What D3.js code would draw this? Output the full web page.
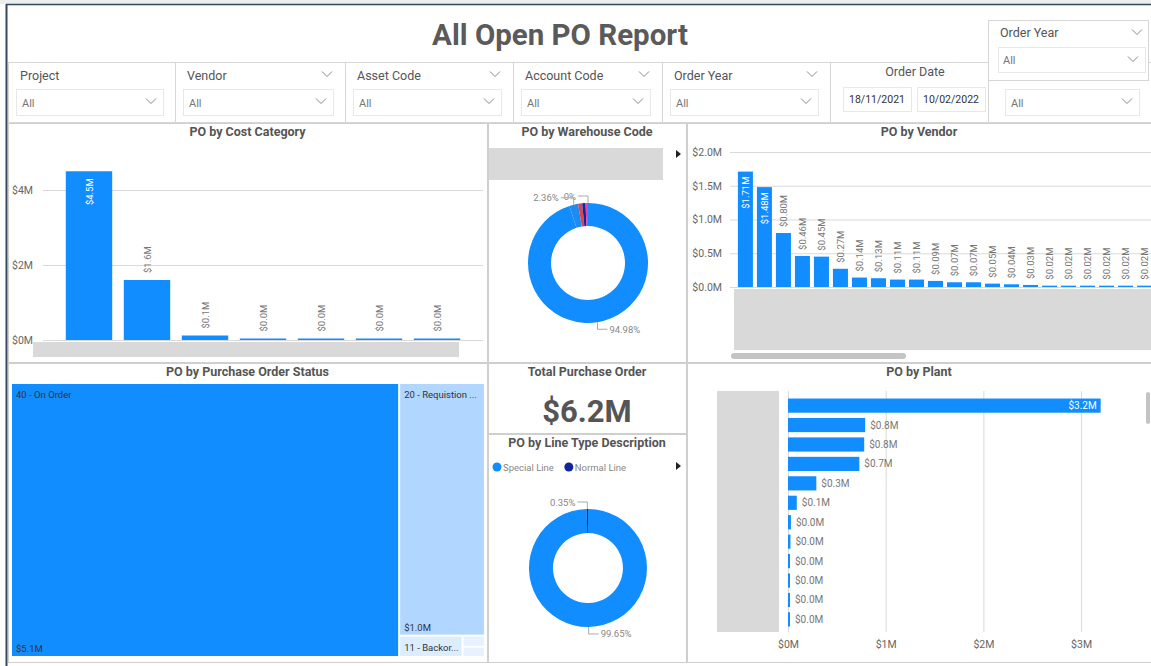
<!DOCTYPE html>
<html>
<head>
<meta charset="utf-8">
<script src="https://cdn.jsdelivr.net/npm/d3@7"></script>
<style>
body { margin: 0; background: #fff; }
svg { display: block; font-family: Roboto, "Noto Sans", sans-serif; }
</style>
</head>
<body>
<script>
"use strict";
// values
const costCategories = ["Category A", "Category B", "Category C", "Category D", "Category E", "Category F", "Category G"];
const costValues = [4.5, 1.6, 0.12, 0.03, 0.03, 0.03, 0.03];
const costTicks = [0, 2, 4];

const vendorNames = ["V01", "V02", "V03", "V04", "V05", "V06", "V07", "V08", "V09", "V10", "V11", "V12", "V13", "V14", "V15", "V16", "V17", "V18", "V19", "V20", "V21", "V22"];
const vendorValues = [1.71, 1.48, 0.80, 0.46, 0.45, 0.27, 0.14, 0.13, 0.11, 0.11, 0.09, 0.07, 0.07, 0.05, 0.04, 0.03, 0.02, 0.02, 0.02, 0.02, 0.02, 0.02];
const vendorTicks = [0, 0.5, 1, 1.5, 2];

const warehouseCodes = ["WH-1", "WH-2", "WH-3", "WH-4", "WH-5", "WH-6"];
const warehouseShares = [94.98, 2.36, 1.1, 0.9, 0.66, 0];
const warehouseShown = [true, true, false, false, false, true];
const warehouseColors = ["#118DFF", "#1E8BEF", "#D64550", "#12239E", "#E044A7", "#6B007B"];

const lineTypes = ["Special Line", "Normal Line"];
const lineShares = [99.65, 0.35];
const lineColors = ["#118DFF", "#12239E"];

const statusNames = ["40 - On Order", "20 - Requistion Approved", "11 - Backorder", "10 - Entered", "30 - Released"];
const statusValues = [5.1, 1.04, 0.065, 0.012, 0.011];
const statusColors = ["#118DFF", "#B1D6FF", "#DCEDFF", "#E6F2FF", "#E6F2FF"];

const plantNames = ["P01", "P02", "P03", "P04", "P05", "P06", "P07", "P08", "P09", "P10", "P11", "P12"];
const plantValues = [3.2, 0.79, 0.78, 0.73, 0.29, 0.09, 0.03, 0.025, 0.02, 0.02, 0.02, 0.015];
const plantTicks = [0, 1, 2, 3];

const totalPO = 6.2;
const slicerTitles = ["Project", "Vendor", "Asset Code", "Account Code", "Order Year"];
const dateRange = ["18/11/2021", "10/02/2022"];

const blue = "#118DFF";
const grey = "#666";
const W = 1151, H = 666;

const svg = d3.select("body").append("svg").attr("width", W).attr("height", H);

function chevron(g, x, y) {
	g.append("path")
	.attr("d", `M${x - 5},${y - 2.5}L${x},${y + 2.5}L${x + 5},${y - 2.5}`)
	.attr("fill", "none").attr("stroke", "#888").attr("stroke-width", 1);
}
function arrow(x, y) {
	svg.append("path").attr("d", `M${x},${y - 4}L${x + 5},${y}L${x},${y + 4}Z`).attr("fill", "#222");
}
function panel(x, y, w, h, title) {
	svg.append("rect").attr("x", x + 0.5).attr("y", y + 0.5).attr("width", w).attr("height", h)
	.attr("fill", "#fff").attr("stroke", "#cfcfcf");
	svg.append("text").attr("x", x + w / 2).attr("y", y + 13).attr("text-anchor", "middle")
	.attr("font-size", 12.5).attr("font-weight", 700).attr("fill", "#555").text(title);
}
function styleAxis(g) {
	g.select(".domain").remove();
	g.selectAll(".tick line").attr("stroke", "#d9d9d9");
	g.selectAll(".tick text").attr("fill", grey).attr("font-size", 10.5).attr("font-family", "Roboto, sans-serif");
}

// frame
svg.append("rect").attr("x", 0).attr("y", 0).attr("width", W).attr("height", 4).attr("fill", "#eceef0");
svg.append("line").attr("x1", 6).attr("x2", W).attr("y1", 4.5).attr("y2", 4.5).attr("stroke", "#34495e").attr("stroke-width", 1.5);
svg.append("line").attr("x1", 6.5).attr("x2", 6.5).attr("y1", 4).attr("y2", H).attr("stroke", "#34495e").attr("stroke-width", 2);

svg.append("text").attr("x", 560).attr("y", 45).attr("text-anchor", "middle")
.attr("font-size", 29.5).attr("font-weight", 700).attr("fill", "#5a5a5a").text("All Open PO Report");

// slicers
const slicerEdges = [8, 175, 345, 513, 662, 830, 988, 1151];
const slicers = svg.append("g");
slicerEdges.slice(0, -1).forEach((x0, i) => {
	const x1 = slicerEdges[i + 1];
	slicers.append("rect").attr("x", x0 + 0.5).attr("y", 62.5).attr("width", x1 - x0).attr("height", 60)
	.attr("fill", "#fff").attr("stroke", "#d6d6d6");
	if (i < slicerTitles.length || i === 6) {
		const dx = i === 6 ? 17 : 8;
		if (i < slicerTitles.length) {
			slicers.append("text").attr("x", x0 + 12).attr("y", 80).attr("font-size", 12.5).attr("fill", "#555").text(slicerTitles[i]);
			if (i > 0) chevron(slicers, x1 - 18, 74);
		}
		slicers.append("rect").attr("x", x0 + dx + 0.5).attr("y", 89.5).attr("width", x1 - x0 - dx - 12).attr("height", 26)
		.attr("fill", "#fff").attr("stroke", "#e8e8e8");
		slicers.append("text").attr("x", x0 + dx + 6).attr("y", 107).attr("font-size", 11).attr("fill", "#777").text("All");
		chevron(slicers, x1 - 24, 101);
	}
});
slicers.append("text").attr("x", 915).attr("y", 76).attr("text-anchor", "middle").attr("font-size", 12.5).attr("fill", "#555").text("Order Date");
dateRange.forEach((d, i) => {
	const bx = 843 + i * 74;
	slicers.append("rect").attr("x", bx + 0.5).attr("y", 87.5).attr("width", 68).attr("height", 24).attr("fill", "#fff").attr("stroke", "#e8e8e8");
	slicers.append("text").attr("x", bx + 34).attr("y", 103).attr("text-anchor", "middle").attr("font-size", 10.5).attr("fill", "#333").text(d);
});
slicers.append("rect").attr("x", 988.5).attr("y", 20.5).attr("width", 160).attr("height", 60).attr("fill", "#fff").attr("stroke", "#d6d6d6");
slicers.append("text").attr("x", 1000).attr("y", 37).attr("font-size", 12.5).attr("fill", "#555").text("Order Year");
chevron(slicers, 1137, 32);
slicers.append("rect").attr("x", 998.5).attr("y", 47.5).attr("width", 147).attr("height", 25).attr("fill", "#fff").attr("stroke", "#e8e8e8");
slicers.append("text").attr("x", 1003).attr("y", 64).attr("font-size", 11).attr("fill", "#777").text("All");
chevron(slicers, 1133, 59);

// PO by Cost Category
panel(8, 123, 479, 239, "PO by Cost Category");
const cx = d3.scaleBand().domain(costCategories).range([60, 466]).paddingInner(0.2).paddingOuter(0.1);
const cy = d3.scaleLinear().domain([0, 5]).range([340, 152.5]);
svg.append("g").attr("transform", "translate(43,0)")
.call(d3.axisLeft(cy).tickValues(costTicks).tickSize(-440).tickPadding(10).tickFormat(d => "$" + d + "M"))
.call(styleAxis);
const costG = svg.append("g");
costCategories.forEach((c, i) => {
	const v = costValues[i];
	const top = Math.min(cy(v), 338.5);
	costG.append("rect").attr("x", cx(c)).attr("y", top).attr("width", cx.bandwidth()).attr("height", 340 - top).attr("fill", blue);
	const inside = v > 2;
	const mx = cx(c) + cx.bandwidth() / 2;
	const ly = inside ? top + 7 : top - 7;
	costG.append("text").attr("transform", `translate(${mx},${ly}) rotate(-90)`)
	.attr("text-anchor", inside ? "end" : "start").attr("dominant-baseline", "central")
	.attr("font-size", 9.5).attr("fill", inside ? "#fff" : "#777").text("$" + v.toFixed(1) + "M");
});
svg.append("rect").attr("x", 33).attr("y", 342).attr("width", 426).attr("height", 15).attr("fill", "#d9d9d9");

// PO by Warehouse Code
panel(488, 123, 198, 239, "PO by Warehouse Code");
svg.append("rect").attr("x", 489).attr("y", 148).attr("width", 174).attr("height", 32).attr("fill", "#d9d9d9");
arrow(676, 154);

function donut(values, colors, shown, ccx, ccy, r0, r1) {
	const arcs = d3.pie().sort(null).value(d => d)(values);
	const arc = d3.arc().innerRadius(r0).outerRadius(r1);
	const g = svg.append("g").attr("transform", `translate(${ccx},${ccy})`);
	g.selectAll("path.slice").data(arcs).enter().append("path").attr("class", "slice")
	.attr("d", arc).attr("fill", (d, i) => colors[i]);
	let leftEdge = Infinity;
	// walk labels from the top backwards so left-side labels don't collide
	arcs.map((a, i) => i).reverse().forEach(i => {
		const a = arcs[i];
		if (!shown[i]) return;
		const m = (a.startAngle + a.endAngle) / 2;
		const px = r1 * Math.sin(m), py = -r1 * Math.cos(m);
		const right = Math.sin(m) > 0.001;
		const y2 = py + (Math.cos(m) > 0 ? -7 : 7);
		let x3 = px + (right ? 10 : -10);
		const t = g.append("text").attr("y", y2 + 3.5)
		.attr("text-anchor", right ? "start" : "end").attr("font-size", 9.5).attr("fill", "#888")
		.text(+values[i].toFixed(2) + "%");
		if (!right) {
			if (x3 - 2 > leftEdge - 5) x3 = leftEdge - 5 + 2;
			leftEdge = x3 - 2 - t.node().getComputedTextLength();
		}
		t.attr("x", x3 + (right ? 2 : -2));
		g.append("path").attr("d", `M${px},${py}L${px},${y2}L${x3},${y2}`).attr("fill", "none").attr("stroke", "#aaa");
	});
}
donut(warehouseShares, warehouseColors, warehouseShown, 588, 263, 37, 60);

// PO by Vendor
panel(687, 123, 464, 239, "PO by Vendor");
const vx = d3.scaleBand().domain(vendorNames).range([736, 1154]).paddingInner(0.21).paddingOuter(0.1);
const vy = d3.scaleLinear().domain([0, 2]).range([287, 152]);
svg.append("g").attr("transform", "translate(730,0)")
.call(d3.axisLeft(vy).tickValues(vendorTicks).tickSize(-421).tickPadding(8).tickFormat(d => "$" + d.toFixed(1) + "M"))
.call(styleAxis);
const vendG = svg.append("g");
vendorNames.forEach((n, i) => {
	const v = vendorValues[i];
	const top = vy(v);
	vendG.append("rect").attr("x", vx(n)).attr("y", top).attr("width", vx.bandwidth()).attr("height", 287 - top).attr("fill", blue);
	const inside = v > 1;
	const mx = vx(n) + vx.bandwidth() / 2;
	vendG.append("text").attr("transform", `translate(${mx},${inside ? top + 5 : top - 6}) rotate(-90)`)
	.attr("text-anchor", inside ? "end" : "start").attr("dominant-baseline", "central")
	.attr("font-size", 9.5).attr("fill", inside ? "#fff" : "#777").text("$" + v.toFixed(2) + "M");
});
svg.append("rect").attr("x", 734).attr("y", 289).attr("width", 417).attr("height", 61).attr("fill", "#d9d9d9");
svg.append("rect").attr("x", 731).attr("y", 353).attr("width", 175).attr("height", 6).attr("rx", 3).attr("fill", "#c4c4c4");

// PO by Purchase Order Status
panel(8, 363, 479, 299, "PO by Purchase Order Status");
const root = d3.hierarchy({children: statusNames.map((n, i) => ({name: n, value: statusValues[i], color: statusColors[i]}))})
.sum(d => d.value || 0).sort((a, b) => b.value - a.value);
d3.treemap().size([472, 272]).paddingInner(2).tile(d3.treemapSquarify)(root);
const tm = svg.append("g").attr("transform", "translate(12,384)");
root.leaves().forEach(d => {
	const w = d.x1 - d.x0, h = d.y1 - d.y0;
	tm.append("rect").attr("x", d.x0).attr("y", d.y0).attr("width", w).attr("height", h).attr("fill", d.data.color);
	if (h < 16 || w < 30) return;
	const t = tm.append("text").attr("x", d.x0 + 4).attr("y", d.y0 + 14).attr("font-size", 9.5).attr("fill", "#333").text(d.data.name);
	const maxW = w - 6;
	if (t.node().getComputedTextLength() > maxW) {
		let s = d.data.name;
		while (s.length > 0) {
			s = s.slice(0, -1);
			t.text(s + "...");
			if (t.node().getComputedTextLength() <= maxW) break;
		}
	}
	if (h > 40) {
		tm.append("text").attr("x", d.x0 + 4).attr("y", d.y1 - 4).attr("font-size", 9.5).attr("fill", "#333").text("$" + d.value.toFixed(1) + "M");
	}
});

// Total Purchase Order
panel(488, 363, 198, 70, "Total Purchase Order");
svg.append("text").attr("x", 587).attr("y", 422).attr("text-anchor", "middle")
.attr("font-size", 31).attr("font-weight", 700).attr("fill", "#555").text("$" + totalPO.toFixed(1) + "M");

// PO by Line Type Description
panel(488, 434, 198, 228, "PO by Line Type Description");
let lx = 497;
lineTypes.forEach((t, i) => {
	svg.append("circle").attr("cx", lx).attr("cy", 467).attr("r", 4.5).attr("fill", lineColors[i]);
	const txt = svg.append("text").attr("x", lx + 6).attr("y", 470.5).attr("font-size", 9.5).attr("fill", "#888").text(t);
	lx += 6 + txt.node().getComputedTextLength() + 15;
});
arrow(676, 466);
donut(lineShares, lineColors, [true, true], 588, 568, 35, 59);

// PO by Plant
panel(687, 363, 464, 299, "PO by Plant");
svg.append("rect").attr("x", 717).attr("y", 391).attr("width", 62).attr("height", 241).attr("fill", "#d9d9d9");
const px = d3.scaleLinear().domain([0, 3.3]).range([788, 788 + 3.3 * 97.7]);
const py = d3.scaleBand().domain(plantNames).range([396, 629]).paddingInner(0.27).paddingOuter(0.13);
svg.append("g").attr("transform", "translate(0,632)")
.call(d3.axisBottom(px).tickValues(plantTicks).tickSize(-241).tickPadding(9).tickFormat(d => "$" + d + "M"))
.call(styleAxis);
const plantG = svg.append("g");
plantNames.forEach((n, i) => {
	const v = plantValues[i];
	const end = Math.max(px(v), 790);
	plantG.append("rect").attr("x", 788).attr("y", py(n)).attr("width", end - 788).attr("height", py.bandwidth()).attr("fill", blue);
	const inside = v > 2;
	plantG.append("text").attr("x", inside ? end - 4 : end + 5).attr("y", py(n) + py.bandwidth() / 2 + 3.5)
	.attr("text-anchor", inside ? "end" : "start").attr("font-size", 10).attr("fill", inside ? "#fff" : "#777")
	.text("$" + v.toFixed(1) + "M");
});
svg.append("rect").attr("x", 1146).attr("y", 392).attr("width", 4).attr("height", 32).attr("rx", 2).attr("fill", "#c4c4c4");
</script>
</body>
</html>
